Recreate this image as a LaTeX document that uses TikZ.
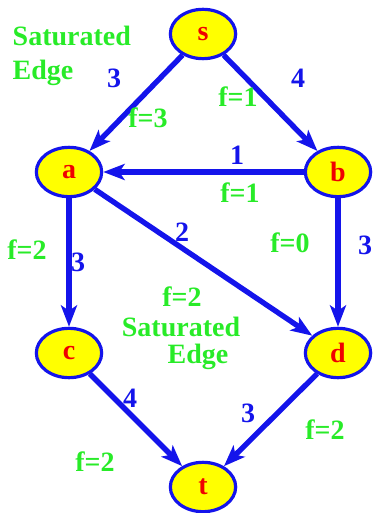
\documentclass[tikz,border=0pt]{standalone}
\usepackage{fontspec}
\setmainfont{Liberation Serif}
\usetikzlibrary{arrows.meta,shapes.geometric}
\definecolor{netblue}{RGB}{20,20,235}
\definecolor{netgreen}{RGB}{40,235,40}
\definecolor{netred}{RGB}{240,0,0}
\definecolor{netyellow}{RGB}{255,255,0}

\begin{document}
\begin{tikzpicture}[x=0.75pt,y=-0.75pt,
  font=\fontsize{21}{26}\selectfont\bfseries,
  vert/.style={ellipse,draw=netblue,line width=2.4pt,fill=netyellow,text=netred,
    minimum width=49pt,minimum height=37pt,inner sep=0pt},
  capnum/.style={text=netblue},
  flownum/.style={text=netgreen},
  arc/.style={netblue,line width=4pt,-{Stealth[length=16pt,width=12pt,inset=4pt]}}]
\useasboundingbox (0,0) rectangle (376,513);
% vertices
\node[vert] (s) at (203,34) {s};
\node[vert] (a) at (69,172) {a};
\node[vert] (b) at (338,172) {b};
\node[vert] (c) at (69,353) {c};
\node[vert] (d) at (338,353) {d};
\node[vert] (t) at (203,487) {t};
% edges
\draw[arc] (s) -- (a);
\draw[arc] (s) -- (b);
\draw[arc] (b) -- (a);
\draw[arc] (a) -- (c);
\draw[arc] (a) -- (d);
\draw[arc] (b) -- (d);
\draw[arc] (c) -- (t);
\draw[arc] (d) -- (t);
% capacities
\node[capnum] (csa) at (114,78) {3};
\node[capnum] (csb) at (298,78) {4};
\node[capnum] (cba) at (237,155) {1};
\node[capnum] (cac) at (78,262) {3};
\node[capnum] (cad) at (182,232) {2};
\node[capnum] (cbd) at (365,245) {3};
\node[capnum] (cct) at (130,398) {4};
\node[capnum] (cdt) at (248,413) {3};
% flows
\node[flownum] (fsa) at (148,118) {f=3};
\node[flownum] (fsb) at (238,97) {f=1};
\node[flownum] (fba) at (240,193) {f=1};
\node[flownum] (fac) at (27,250) {f=2};
\node[flownum] (fad) at (182,297) {f=2};
\node[flownum] (fbd) at (290,243) {f=0};
\node[flownum] (fct) at (95,462) {f=2};
\node[flownum] (fdt) at (325,430) {f=2};
% saturated edges
\node[flownum,anchor=west,align=left] (sat1) at (8,56) {Saturated\\Edge};
\node[flownum] (sat2) at (181,327) {Saturated};
\node[flownum] (sat3) at (198,357) {Edge};
\end{tikzpicture}
\end{document}
